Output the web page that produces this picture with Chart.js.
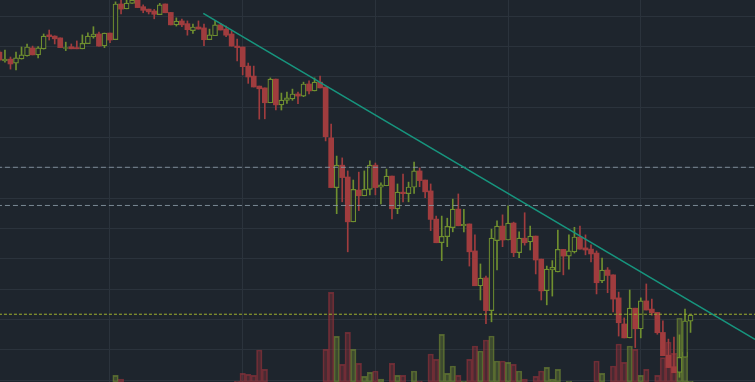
<!DOCTYPE html>
<html>
<head>
<meta charset="utf-8">
<script src="https://cdn.jsdelivr.net/npm/chart.js@4/dist/chart.umd.min.js"></script>
<style>
  html, body { margin: 0; padding: 0; background: #1e252d; overflow: hidden; }
  #wrap { position: relative; width: 755px; height: 382px; }
</style>
</head>
<body>
<div id="wrap"><canvas id="c"></canvas></div>
<script>
const opens = [1108.2,1105.3,1105.9,1104.6,1106.0,1107.0,1109.6,1107.3,1109.3,1113.9,1113.5,1112.9,1109.4,1110.0,1109.7,1109.3,1111.0,1113.3,1114.2,1110.3,1114.5,1112.3,1124.1,1122.5,1124.3,1125.4,1123.2,1122.4,1121.8,1120.6,1124.1,1121.3,1117.2,1118.5,1117.6,1115.3,1116.5,1116.2,1112.3,1113.6,1117.2,1115.8,1114.2,1110.2,1109.9,1103.6,1100.3,1097.0,1096.4,1091.5,1099.3,1090.8,1092.3,1092.8,1094.4,1093.7,1097.7,1095.4,1098.3,1096.7,1079.9,1063.5,1070.9,1067.0,1052.2,1062.7,1060.8,1062.9,1070.9,1063.6,1064.1,1067.3,1056.5,1062.0,1061.5,1063.6,1069.0,1066.0,1062.4,1053.1,1045.3,1047.3,1050.3,1056.4,1050.9,1051.5,1042.6,1031.1,1033.7,1022.9,1046.0,1050.8,1046.2,1051.8,1042.0,1046.8,1045.6,1047.5,1039.9,1029.5,1036.3,1035.7,1043.1,1040.9,1042.3,1047.2,1043.6,1043.2,1041.9,1032.7,1036.3,1034.7,1027.1,1018.5,1013.9,1023.7,1016.9,1026.1,1023.4,1022.3,1015.7,1008.2,1004.4,1002.5,1007.5,1019.4];
const highs = [1108.6,1108.9,1106.6,1108.2,1109.9,1110.9,1110.2,1110.0,1114.2,1115.5,1113.6,1112.9,1111.5,1110.9,1111.9,1113.9,1114.6,1116.6,1114.8,1114.5,1114.5,1124.8,1125.4,1125.4,1126.1,1125.7,1123.8,1122.4,1122.3,1124.3,1124.1,1121.3,1119.5,1119.1,1118.5,1117.5,1118.5,1117.5,1115.8,1118.5,1117.7,1116.8,1115.2,1112.5,1109.9,1104.6,1103.6,1097.0,1096.4,1099.7,1099.3,1094.7,1095.0,1096.0,1095.0,1098.3,1098.7,1099.7,1100.3,1096.7,1084.5,1073.9,1073.3,1069.0,1066.0,1068.6,1069.0,1072.3,1071.6,1065.1,1069.6,1067.3,1064.7,1068.0,1065.3,1071.9,1070.0,1066.0,1064.7,1054.1,1054.1,1053.4,1059.7,1061.4,1056.3,1051.5,1047.9,1038.3,1034.3,1049.8,1052.5,1054.5,1057.5,1052.1,1048.9,1055.2,1050.8,1047.5,1039.9,1037.6,1039.4,1049.5,1043.1,1047.9,1050.4,1050.8,1047.9,1044.6,1042.6,1040.2,1037.1,1034.7,1029.0,1020.5,1029.7,1023.7,1027.1,1031.7,1026.7,1022.3,1019.5,1013.5,1014.2,1014.9,1023.4,1021.4];
const lows = [1105.3,1104.9,1102.6,1102.3,1105.9,1106.9,1107.3,1106.3,1109.2,1112.2,1110.9,1109.7,1108.7,1109.3,1109.3,1109.3,1111.0,1112.8,1110.2,1109.7,1111.3,1112.3,1120.8,1122.5,1124.3,1122.9,1121.2,1120.8,1119.2,1120.6,1121.2,1117.2,1116.8,1116.6,1113.8,1114.4,1115.8,1110.3,1112.3,1113.6,1115.5,1113.3,1110.2,1105.3,1100.7,1097.9,1096.7,1086.1,1086.2,1091.5,1089.1,1089.1,1091.3,1092.3,1091.2,1093.5,1094.4,1095.4,1096.4,1078.9,1063.5,1054.9,1058.8,1042.3,1052.2,1055.9,1060.8,1061.1,1061.1,1058.1,1064.1,1053.2,1054.9,1058.8,1058.8,1061.6,1063.8,1060.2,1049.3,1045.3,1039.4,1044.0,1048.9,1050.9,1048.9,1037.6,1031.1,1026.4,1018.6,1019.2,1036.3,1044.0,1046.2,1040.7,1040.4,1044.5,1042.9,1035.0,1026.4,1024.8,1027.7,1035.7,1034.7,1036.6,1041.9,1043.2,1041.3,1039.0,1028.4,1032.1,1028.8,1022.5,1014.5,1013.9,1013.9,1010.7,1013.9,1023.1,1021.4,1015.1,1008.0,1004.1,1002.4,1000.9,1007.5,1015.7];
const closes = [1105.6,1105.9,1104.3,1106.3,1107.3,1109.9,1107.3,1109.6,1113.5,1113.3,1112.6,1109.7,1109.7,1109.3,1109.3,1111.1,1113.5,1114.2,1110.2,1114.5,1112.2,1124.1,1122.4,1124.4,1125.4,1122.9,1122.0,1121.5,1120.7,1123.8,1121.2,1117.2,1118.4,1117.2,1115.6,1116.5,1115.8,1112.3,1113.9,1117.2,1115.5,1113.8,1110.2,1109.7,1103.4,1100.0,1096.7,1096.1,1091.5,1099.3,1090.8,1092.4,1093.1,1094.4,1093.7,1097.7,1095.4,1098.3,1096.4,1080.3,1063.5,1070.9,1066.8,1052.2,1062.9,1060.8,1062.9,1070.9,1063.5,1064.4,1067.3,1056.5,1062.0,1061.5,1063.7,1069.0,1065.8,1062.1,1053.0,1045.3,1047.4,1050.7,1056.4,1050.9,1051.4,1042.3,1031.1,1033.6,1022.9,1046.8,1050.8,1046.2,1051.8,1042.0,1046.8,1045.3,1047.5,1039.6,1029.4,1036.6,1037.2,1043.1,1040.9,1042.6,1047.2,1043.2,1042.9,1041.6,1032.1,1036.3,1034.5,1026.7,1018.9,1013.9,1023.7,1016.9,1026.1,1023.1,1022.2,1015.6,1008.0,1004.1,1002.4,1007.5,1019.5,1021.4];
const volumes = [0,0,0,0,0,0,0,0,0,0,0,0,0,0,0,0,0,0,0,0,0,67,30,0,0,0,0,0,0,0,0,0,0,0,0,0,0,0,0,0,0,0,0,10,87,77,67,320,127,0,0,0,0,0,0,0,0,0,0,327,897,457,177,497,327,187,57,97,110,30,0,187,67,67,0,110,10,0,280,227,477,87,160,67,10,227,360,310,420,460,210,210,197,177,110,30,0,57,110,147,30,127,0,10,0,0,0,0,210,87,0,160,380,197,360,327,67,127,0,67,243,400,287,640,297,10];

const trendX = [36.87, 136.66];
const trendY = [1121.0, 1013.4];
const grayLevels = [1070.2, 1057.6];
const yellowLevel = 1021.7;
const priceTicks = [1000,1010,1020,1030,1040,1050,1060,1070,1080,1090,1100,1110,1120];
const timeTicks = [20, 44, 68, 92, 116];

const BG = '#1e252d';
const RED = '#a03c3e';
const GREEN = '#6f8f2f';
const GRID = '#2b333c';
const up = i => closes[i] >= opens[i];

const wickData = opens.map((o, i) => ({ x: i, y: [lows[i], highs[i]] }));
const bodyData = opens.map((o, i) => ({ x: i, y: [o, closes[i]] }));
const volData = volumes.map((v, i) => ({ x: i, y: v > 0 ? v : null }));

const X_MIN = 0.105, X_MAX = 136.66;
const levelLine = (p, color, dash, order) => ({
  type: 'line', data: [{ x: X_MIN - 2, y: p }, { x: X_MAX + 2, y: p }],
  borderColor: color, borderWidth: 1, borderDash: dash, pointRadius: 0,
  yAxisID: 'y', order: order, fill: false
});

new Chart(document.getElementById('c'), {
  type: 'bar',
  data: {
    datasets: [
      { type: 'line', data: trendX.map((x, k) => ({ x: x, y: trendY[k] })),
        borderColor: '#17957e', borderWidth: 1.6, pointRadius: 0, yAxisID: 'y', order: 0, fill: false },
      levelLine(grayLevels[0], 'rgba(140,155,168,0.85)', [5, 3], 0),
      levelLine(grayLevels[1], 'rgba(140,155,168,0.85)', [5, 3], 0),
      levelLine(yellowLevel, '#a1b22e', [3, 2], 0),
      { data: bodyData, yAxisID: 'y', grouped: false, barThickness: 5, minBarLength: 1,
        backgroundColor: ctx => up(ctx.dataIndex) ? BG : RED,
        borderColor: ctx => up(ctx.dataIndex) ? GREEN : RED,
        borderWidth: ctx => up(ctx.dataIndex) ? 1.2 : 0,
        borderSkipped: false, order: 1 },
      { data: wickData, yAxisID: 'y', grouped: false, barThickness: 1,
        backgroundColor: ctx => up(ctx.dataIndex) ? GREEN : RED,
        borderWidth: 0, order: 2 },
      { data: volData, yAxisID: 'yv', grouped: false, barThickness: 5.5,
        backgroundColor: ctx => up(ctx.dataIndex) ? 'rgba(119,143,52,0.35)' : 'rgba(156,51,60,0.35)',
        borderColor: ctx => up(ctx.dataIndex) ? 'rgba(119,143,52,0.6)' : 'rgba(156,51,60,0.6)',
        borderWidth: 1, borderSkipped: false, order: 3 }
    ]
  },
  options: {
    responsive: true,
    maintainAspectRatio: false,
    animation: false,
    layout: { padding: 0 },
    plugins: { legend: { display: false }, tooltip: { enabled: false } },
    scales: {
      x: {
        type: 'linear', min: X_MIN, max: X_MAX, offset: false,
        grid: { color: GRID, offset: false, drawTicks: false, lineWidth: 1 },
        ticks: { display: false }, border: { display: false },
        afterBuildTicks: s => { s.ticks = timeTicks.map(v => ({ value: v })); }
      },
      y: {
        type: 'linear', min: 999.34, max: 1125.41,
        grid: { color: GRID, drawTicks: false, lineWidth: 1 },
        ticks: { display: false }, border: { display: false },
        afterBuildTicks: s => { s.ticks = priceTicks.map(v => ({ value: v })); }
      },
      yv: {
        type: 'linear', display: false, min: 0, max: 3820
      }
    }
  }
});
</script>
</body>
</html>
